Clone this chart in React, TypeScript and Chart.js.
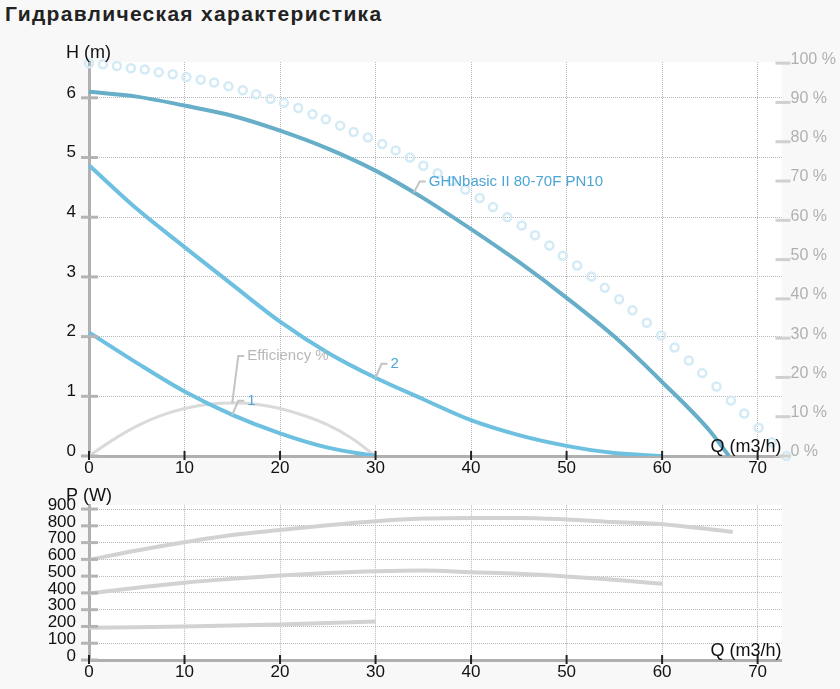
import { useEffect, useRef } from "react"
import { Chart, registerables, type Plugin } from "chart.js"

Chart.register(...registerables)
Chart.defaults.font.family = "'Liberation Sans', Arial, sans-serif"

// axis ticks
const qTicks = [0, 10, 20, 30, 40, 50, 60, 70]
const hTicks = [0, 1, 2, 3, 4, 5, 6]
const pctTicks = [0, 10, 20, 30, 40, 50, 60, 70, 80, 90, 100]
const pTicks = [0, 100, 200, 300, 400, 500, 600, 700, 800, 900]

// head curves, Q (m3/h) -> H (m)
const mainFlow = [0, 5, 10, 15, 20, 25, 30, 35, 40, 45, 50, 55, 60, 65, 67]
const mainHead = [6.1, 6.02, 5.87, 5.7, 5.45, 5.15, 4.78, 4.32, 3.8, 3.25, 2.65, 2.0, 1.24, 0.42, 0]
const curve2Flow = [0, 5, 10, 15, 20, 25, 30, 35, 40, 45, 50, 55, 60]
const curve2Head = [4.87, 4.14, 3.5, 2.87, 2.25, 1.73, 1.31, 0.95, 0.6, 0.35, 0.17, 0.05, 0]
const curve1Flow = [0, 5, 10, 15, 20, 25, 30]
const curve1Head = [2.07, 1.56, 1.08, 0.69, 0.38, 0.14, 0]

// efficiency (%)
const effFlow = [0, 2.5, 5, 7.5, 10, 12.5, 15, 17.5, 20, 22.5, 25, 27.5, 30]
const effPct = [0, 4.1, 7.6, 10.3, 12.1, 13.2, 13.5, 13.2, 12.1, 10.3, 7.9, 4.5, 0]

// dotted curve (%)
const dotFlow = [
  0, 1.46, 2.92, 4.38, 5.84, 7.3, 8.76, 10.2, 11.7, 13.1, 14.6, 16.1, 17.5, 19.0, 20.4, 21.9, 23.4,
  24.8, 26.3, 27.7, 29.2, 30.7, 32.1, 33.6, 35.0, 36.5, 38.0, 39.4, 40.9, 42.3, 43.8, 45.3, 46.7,
  48.2, 49.6, 51.1, 52.6, 54.0, 55.5, 56.9, 58.4, 59.9, 61.3, 62.8, 64.2, 65.7, 67.2, 68.6, 70.1,
  71.5, 73.0,
]
const dotPct = [
  100, 99.7, 99.3, 98.7, 98.4, 97.7, 97.2, 96.5, 95.8, 95.1, 94.1, 93.1, 92.1, 90.9, 89.9, 88.6, 87.0,
  85.7, 84.1, 82.5, 81.1, 79.4, 77.8, 76.0, 73.9, 72.0, 70.0, 67.8, 65.7, 63.4, 60.8, 58.7, 56.2,
  53.6, 51.0, 48.5, 45.7, 42.8, 39.9, 37.1, 33.9, 30.7, 27.6, 24.3, 21.1, 17.7, 14.1, 10.8, 7.2,
  3.5, 0,
]

// power curves, Q -> P (W)
const powerAFlow = [0, 5, 10, 15, 20, 25, 30, 35, 40, 45, 50, 55, 60, 65, 67.4]
const powerA = [598, 653, 702, 745, 775, 804, 828, 843, 847, 847, 838, 823, 810, 780, 763]
const powerBFlow = [0, 5, 10, 15, 20, 25, 30, 35, 40, 45, 50, 55, 60]
const powerB = [396, 431, 461, 484, 504, 519, 529, 533, 523, 514, 498, 478, 455]
const powerCFlow = [0, 5, 10, 15, 20, 25, 30]
const powerC = [192, 196, 200, 205, 212, 220, 229]

const labelTexts = ["GHNbasic II 80-70F PN10", "2", "1", "Efficiency %"]

const pts = (xs: number[], ys: number[]) => xs.map((x, i) => ({ x, y: ys[i] }))

const interp = (xs: number[], ys: number[], q: number) => {
  for (let i = 1; i < xs.length; i++) {
    if (q <= xs[i]) {
      const t = (q - xs[i - 1]) / (xs[i] - xs[i - 1])
      return ys[i - 1] + t * (ys[i] - ys[i - 1])
    }
  }
  return ys[ys.length - 1]
}

const FONT = "'Liberation Sans', Arial, sans-serif"

function decor(yTitle: string, withLabels: boolean): Plugin<"line"> {
  return {
    id: "decor",
    beforeDraw(chart) {
      const { ctx, chartArea: a } = chart
      ctx.save()
      ctx.fillStyle = "#ffffff"
      ctx.fillRect(a.left, a.top, a.right - a.left, a.bottom - a.top)
      ctx.restore()
    },
    afterDraw(chart) {
      const { ctx, chartArea: a, scales } = chart
      const seg = (x1: number, y1: number, x2: number, y2: number) => {
        ctx.beginPath()
        ctx.moveTo(x1, y1)
        ctx.lineTo(x2, y2)
        ctx.stroke()
      }
      ctx.save()
      // left axis marks
      ctx.strokeStyle = "#b4b4b4"
      ctx.lineWidth = 3
      for (const t of scales.y.ticks) {
        const py = scales.y.getPixelForValue(t.value)
        seg(a.left - 8, py, a.left + 9, py)
      }
      // right axis marks
      if (scales.pct) {
        ctx.strokeStyle = "#d0d0d0"
        for (const t of scales.pct.ticks) {
          const py = scales.pct.getPixelForValue(t.value)
          seg(a.right - 6, py, a.right + 9, py)
        }
      }
      // bottom axis marks
      ctx.strokeStyle = "#222222"
      ctx.lineWidth = 2
      for (const t of scales.x.ticks) {
        const px = scales.x.getPixelForValue(t.value)
        seg(px, a.bottom - 5, px, a.bottom + 4)
      }
      // axis titles
      ctx.fillStyle = "#111111"
      ctx.font = `18px ${FONT}`
      ctx.textBaseline = "middle"
      ctx.textAlign = "left"
      ctx.fillText(yTitle, a.left - 23, a.top - 9)
      ctx.textAlign = "right"
      ctx.fillText("Q (m3/h)", a.right, a.bottom - 9)

      if (withLabels) {
        const specs = [
          { flow: mainFlow, vals: mainHead, at: 34, axis: "y", rise: 11, color: "#4ba5d6" },
          { flow: curve2Flow, vals: curve2Head, at: 30, axis: "y", rise: 14, color: "#4ba5d6" },
          { flow: curve1Flow, vals: curve1Head, at: 15, axis: "y", rise: 14, color: "#4ba5d6" },
          { flow: effFlow, vals: effPct, at: 15, axis: "pct", rise: 47, color: "#b8b8b8" },
        ]
        ctx.font = `15px ${FONT}`
        ctx.textAlign = "left"
        ctx.lineWidth = 2
        specs.forEach((s, i) => {
          const ax = scales.x.getPixelForValue(s.at)
          const ay = scales[s.axis].getPixelForValue(interp(s.flow, s.vals, s.at))
          const ey = ay - s.rise
          ctx.strokeStyle = "#c4c4c4"
          ctx.beginPath()
          ctx.moveTo(ax, ay)
          ctx.lineTo(ax + 6, ey)
          ctx.lineTo(ax + 12, ey)
          ctx.stroke()
          ctx.fillStyle = s.color
          ctx.fillText(labelTexts[i], ax + 15, ey)
        })
      }
      ctx.restore()
    },
  }
}

const fixedTicks = (vals: number[]) => (s: any) => {
  s.ticks = vals.map((v) => ({ value: v }))
}

export default function App() {
  const topRef = useRef<HTMLCanvasElement>(null)
  const bottomRef = useRef<HTMLCanvasElement>(null)

  useEffect(() => {
    if (!topRef.current || !bottomRef.current) return

    const xAxis = (h: number) => ({
      type: "linear" as const,
      min: 0,
      max: 72.5,
      afterBuildTicks: fixedTicks(qTicks),
      afterFit: (s: any) => {
        s.height = h
      },
      grid: { color: "#b8b8b8", lineWidth: 1, drawTicks: false },
      border: { color: "#b0b0b0", width: 3, dash: [1, 1] },
      ticks: { color: "#111111", font: { size: 17 }, padding: 2, maxRotation: 0, autoSkip: false },
    })

    const line = (data: { x: number; y: number }[], color: string, width: number, axis = "y") => ({
      data,
      borderColor: color,
      borderWidth: width,
      pointRadius: 0,
      fill: false,
      cubicInterpolationMode: "monotone" as const,
      yAxisID: axis,
    })

    const top = new Chart(topRef.current, {
      type: "line",
      data: {
        datasets: [
          line(pts(mainFlow, mainHead), "#67aec9", 4),
          line(pts(curve2Flow, curve2Head), "#6ec0e0", 4),
          line(pts(curve1Flow, curve1Head), "#6ec0e0", 4),
          line(pts(effFlow, effPct), "#dadada", 3, "pct"),
          {
            data: pts(dotFlow, dotPct),
            yAxisID: "pct",
            showLine: false,
            pointRadius: 4,
            pointBorderWidth: 2.5,
            pointBorderColor: "#d4ebf6",
            pointBackgroundColor: "rgba(0,0,0,0)",
            clip: false as any,
          },
        ],
      },
      options: {
        responsive: false,
        animation: false,
        events: [],
        layout: { padding: { top: 32, left: 0, right: 0, bottom: 0 } },
        plugins: { legend: { display: false }, tooltip: { enabled: false } },
        scales: {
          x: xAxis(26),
          y: {
            type: "linear",
            position: "left",
            min: 0,
            max: 6.6,
            afterBuildTicks: fixedTicks(hTicks),
            afterFit: (s: any) => {
              s.width = 89
            },
            grid: { color: "#b8b8b8", lineWidth: 1, drawTicks: false },
            border: { color: "#b0b0b0", width: 3, dash: [1, 1] },
            ticks: { color: "#111111", font: { size: 17 }, padding: 13, labelOffset: -5, autoSkip: false },
          },
          pct: {
            type: "linear",
            position: "right",
            min: 0,
            max: 100.3,
            afterBuildTicks: fixedTicks(pctTicks),
            afterFit: (s: any) => {
              s.width = 58.5
            },
            grid: { display: false, drawTicks: false },
            border: { display: false },
            ticks: {
              color: "#b0b0b0",
              font: { size: 16 },
              padding: 9,
              labelOffset: -4,
              autoSkip: false,
              callback: (v: any) => `${v} %`,
            },
          },
        },
      },
      plugins: [decor("H (m)", true)],
    })

    const bottom = new Chart(bottomRef.current, {
      type: "line",
      data: {
        datasets: [
          line(pts(powerAFlow, powerA), "#d2d2d2", 4),
          line(pts(powerBFlow, powerB), "#d2d2d2", 4),
          line(pts(powerCFlow, powerC), "#d2d2d2", 4),
        ],
      },
      options: {
        responsive: false,
        animation: false,
        events: [],
        layout: { padding: { top: 21, left: 0, right: 58.5, bottom: 0 } },
        plugins: { legend: { display: false }, tooltip: { enabled: false } },
        scales: {
          x: xAxis(29),
          y: {
            type: "linear",
            position: "left",
            min: 0,
            max: 923,
            afterBuildTicks: fixedTicks(pTicks),
            afterFit: (s: any) => {
              s.width = 89
            },
            grid: { color: "#b8b8b8", lineWidth: 1, drawTicks: false },
            border: { color: "#b0b0b0", width: 3, dash: [1, 1] },
            ticks: { color: "#111111", font: { size: 17 }, padding: 13, labelOffset: -4, autoSkip: false },
          },
        },
      },
      plugins: [decor("P (W)", false)],
    })

    return () => {
      top.destroy()
      bottom.destroy()
    }
  }, [])

  return (
    <div
      style={{
        position: "absolute",
        left: 0,
        top: 0,
        width: 840,
        height: 689,
        background: "#f8f8f8",
        overflow: "hidden",
      }}
    >
      <div
        style={{
          position: "absolute",
          left: 5,
          top: 2,
          font: `bold 21px/23px ${FONT}`,
          letterSpacing: "1.3px",
          color: "#222222",
          whiteSpace: "nowrap",
        }}
      >
        Гидравлическая характеристика
      </div>
      <canvas
        ref={topRef}
        width={840}
        height={452}
        style={{ position: "absolute", left: 0, top: 30 }}
      />
      <canvas
        ref={bottomRef}
        width={840}
        height={207}
        style={{ position: "absolute", left: 0, top: 482 }}
      />
    </div>
  )
}
